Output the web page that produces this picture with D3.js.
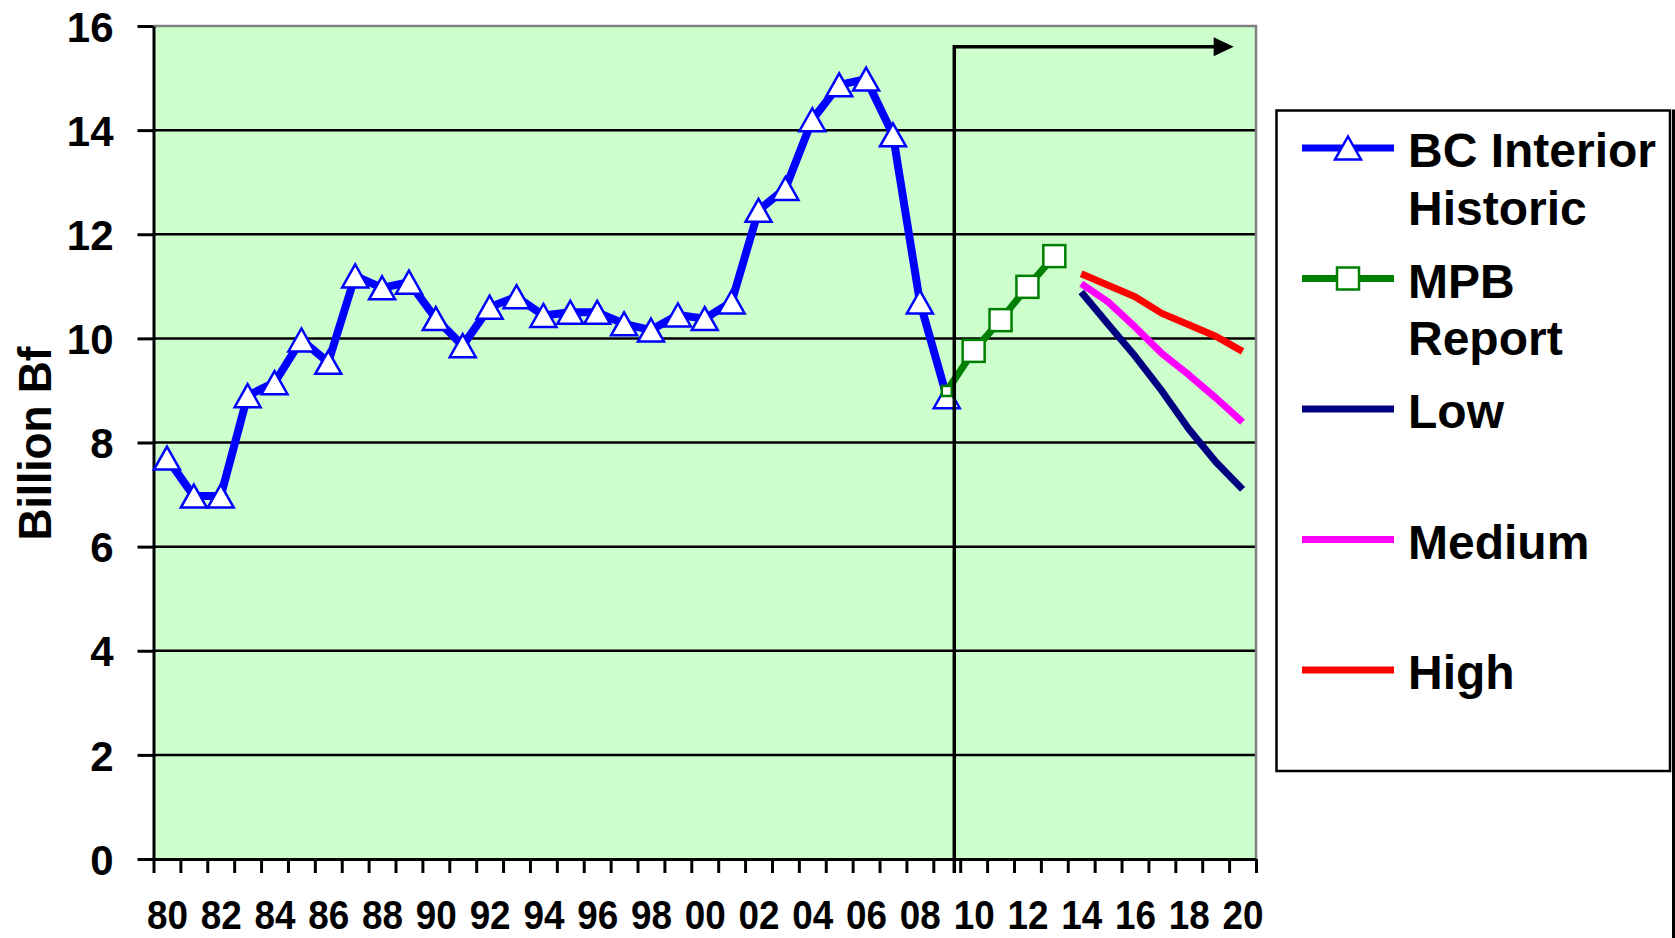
<!DOCTYPE html>
<html>
<head>
<meta charset="utf-8">
<script src="https://cdn.jsdelivr.net/npm/d3@7"></script>
<style>
  body { margin: 0; background: #ffffff; }
  svg { display: block; }
  text { font-family: "Liberation Sans", Arial, sans-serif; font-weight: bold; fill: #000; }
</style>
</head>
<body>
<svg id="chart" width="1675" height="938"></svg>
<script>
// Interior BC harvest volume, billion board feet
const historicYears = [1980, 1981, 1982, 1983, 1984, 1985, 1986, 1987, 1988, 1989,
                       1990, 1991, 1992, 1993, 1994, 1995, 1996, 1997, 1998, 1999,
                       2000, 2001, 2002, 2003, 2004, 2005, 2006, 2007, 2008, 2009];
const historicValues = [7.70, 6.97, 6.97, 8.90, 9.15, 9.97, 9.54, 11.20, 10.97, 11.08,
                        10.38, 9.86, 10.60, 10.80, 10.44, 10.50, 10.50, 10.28, 10.16, 10.45,
                        10.38, 10.70, 12.46, 12.88, 14.20, 14.87, 14.98, 13.91, 10.70, 8.88];

const mpbYears = [2009, 2010, 2011, 2012, 2013];
const mpbValues = [8.99, 9.76, 10.35, 10.99, 11.58];

const projectionYears = [2014, 2015, 2016, 2017, 2018, 2019, 2020];
const lowValues = [10.89, 10.27, 9.66, 8.99, 8.26, 7.63, 7.10];
const mediumValues = [11.05, 10.70, 10.22, 9.71, 9.30, 8.86, 8.39];
const highValues = [11.24, 11.02, 10.80, 10.48, 10.26, 10.04, 9.75];

const yTicks = [0, 2, 4, 6, 8, 10, 12, 14, 16];
const xLabelYears = [1980, 1982, 1984, 1986, 1988, 1990, 1992, 1994, 1996, 1998, 2000,
                     2002, 2004, 2006, 2008, 2010, 2012, 2014, 2016, 2018, 2020];
const xLabels = ["80", "82", "84", "86", "88", "90", "92", "94", "96", "98", "00",
                 "02", "04", "06", "08", "10", "12", "14", "16", "18", "20"];
const firstYear = 1980, lastYear = 2020;

// forecast marker: vertical rule with an arrow pointing to the projection years
const forecastFrom = 2009.28, forecastTo = 2019.67, forecastLevel = 15.6;

const legendNames = [["BC Interior", "Historic"], ["MPB", "Report"], ["Low"], ["Medium"], ["High"]];
const legendColors = ["#0000ff", "#008000", "#000080", "#ff00ff", "#ff0000"];
const legendMarkers = ["triangle", "square", null, null, null];

const svg = d3.select("#chart");
const plot = { left: 153.5, right: 1256, top: 26, bottom: 859 };

const x = d3.scaleLinear().domain([firstYear - 0.5, lastYear + 0.5]).range([plot.left, plot.right]);
const y = d3.scaleLinear().domain([0, 16]).range([plot.bottom, plot.top]);

// plot background
svg.append("rect")
  .attr("x", plot.left).attr("y", plot.top)
  .attr("width", plot.right - plot.left).attr("height", plot.bottom - plot.top)
  .attr("fill", "#ccffcc");

// horizontal gridlines
svg.append("g").selectAll("line")
  .data(yTicks.filter(v => v > 0 && v < 16))
  .join("line")
  .attr("x1", plot.left).attr("x2", plot.right)
  .attr("y1", d => y(d)).attr("y2", d => y(d))
  .attr("stroke", "#000").attr("stroke-width", 2.5);

// grey frame on top and right
svg.append("path")
  .attr("d", `M${plot.left},${y(16)}H${plot.right}V${plot.bottom}`)
  .attr("fill", "none").attr("stroke", "#808080").attr("stroke-width", 2.5);

// y axis
const yAxis = svg.append("g")
  .attr("transform", `translate(${plot.left},0)`)
  .call(d3.axisLeft(y).tickValues(yTicks).tickSize(16).tickSizeOuter(0).tickPadding(24));
yAxis.select(".domain").attr("stroke", "#000").attr("stroke-width", 3);
yAxis.selectAll(".tick line").attr("stroke", "#000").attr("stroke-width", 3);
yAxis.selectAll(".tick text")
  .attr("font-size", 42).attr("dy", "0.36em")
  .style("font-family", "'Liberation Sans', Arial, sans-serif").style("font-weight", "bold");

// x axis: ticks between categories
const boundaries = d3.range(firstYear - 0.5, lastYear + 1, 1);
const xAxis = svg.append("g")
  .attr("transform", `translate(0,${plot.bottom})`)
  .call(d3.axisBottom(x).tickValues(boundaries).tickSize(14).tickSizeOuter(0).tickFormat(""));
xAxis.select(".domain").attr("stroke", "#000").attr("stroke-width", 3);
xAxis.selectAll(".tick line").attr("stroke", "#000").attr("stroke-width", 3);

// x labels every second year
const xLabelAxis = svg.append("g")
  .attr("transform", `translate(0,${plot.bottom})`)
  .call(d3.axisBottom(x).tickValues(xLabelYears).tickSize(0).tickPadding(42)
        .tickFormat((d, i) => xLabels[i]));
xLabelAxis.select(".domain").remove();
xLabelAxis.selectAll(".tick text")
  .attr("font-size", 40).attr("y", 41.5).attr("dy", "0.72em")
  .attr("textLength", 41).attr("lengthAdjust", "spacingAndGlyphs")
  .style("font-family", "'Liberation Sans', Arial, sans-serif").style("font-weight", "bold");

// y axis title
svg.append("text")
  .attr("transform", `translate(51,${(plot.top + plot.bottom) / 2 + 1}) rotate(-90)`)
  .attr("text-anchor", "middle")
  .attr("font-size", 46)
  .attr("textLength", 194).attr("lengthAdjust", "spacingAndGlyphs")
  .text("Billion Bf");

const line = d3.line().x(d => x(d[0])).y(d => y(d[1]));
const zip = (a, b) => a.map((v, i) => [v, b[i]]);

const triangle = (w, h) => `M0,${-h / 2}L${w / 2},${h / 2}L${-w / 2},${h / 2}Z`;

// historic series
const historic = zip(historicYears, historicValues);
svg.append("path").datum(historic)
  .attr("d", line).attr("fill", "none")
  .attr("stroke", "#0000ff").attr("stroke-width", 8)
  .attr("stroke-linejoin", "round");
svg.append("g").selectAll("path")
  .data(historic).join("path")
  .attr("transform", d => `translate(${x(d[0])},${y(d[1])})`)
  .attr("d", triangle(26, 23))
  .attr("fill", "#fff").attr("stroke", "#0000ff").attr("stroke-width", 2.5);

// MPB report series
const mpb = zip(mpbYears, mpbValues);
svg.append("path").datum(mpb)
  .attr("d", line).attr("fill", "none")
  .attr("stroke", "#008000").attr("stroke-width", 7)
  .attr("stroke-linejoin", "round");
svg.append("g").selectAll("rect")
  .data(mpb).join("rect")
  .each(function (d, i) {
    const s = i === 0 ? 10 : 22;
    d3.select(this)
      .attr("x", x(d[0]) - s / 2).attr("y", y(d[1]) - s / 2)
      .attr("width", s).attr("height", s);
  })
  .attr("fill", "#fff").attr("stroke", "#008000").attr("stroke-width", 2.5);

// projection scenarios
[[lowValues, "#000080"], [mediumValues, "#ff00ff"], [highValues, "#ff0000"]].forEach(([vals, col]) => {
  svg.append("path").datum(zip(projectionYears, vals))
    .attr("d", line).attr("fill", "none")
    .attr("stroke", col).attr("stroke-width", 7)
    .attr("stroke-linejoin", "round");
});

// forecast rule and arrow
const fx = x(forecastFrom), fy = y(forecastLevel), ax = x(forecastTo);
svg.append("path")
  .attr("d", `M${fx},${plot.bottom + 14}V${fy}H${ax - 16}`)
  .attr("fill", "none").attr("stroke", "#000").attr("stroke-width", 3.5);
svg.append("path")
  .attr("d", `M${ax},${fy}L${ax - 20},${fy - 9.5}L${ax - 20},${fy + 9.5}Z`)
  .attr("fill", "#000");

// legend
const lg = { x: 1276.5, y: 110.5, w: 393.5, h: 660.5 };
svg.append("rect")
  .attr("x", lg.x).attr("y", lg.y).attr("width", lg.w).attr("height", lg.h)
  .attr("fill", "#fff").attr("stroke", "#000").attr("stroke-width", 2.5);
svg.append("rect")
  .attr("x", 1672).attr("y", lg.y - 1).attr("width", 3).attr("height", 938 - lg.y + 1)
  .attr("fill", "#000");

const sampleX1 = 1302, sampleX2 = 1394, textX = 1408;
const legendRows = svg.append("g").selectAll("g")
  .data(legendNames).join("g")
  .attr("transform", (d, i) => `translate(0,${148 + i * 130.5})`);
legendRows.append("line")
  .attr("x1", sampleX1).attr("x2", sampleX2)
  .attr("stroke", (d, i) => legendColors[i]).attr("stroke-width", 7);
legendRows.each(function (d, i) {
  const g = d3.select(this);
  const cx = (sampleX1 + sampleX2) / 2;
  if (legendMarkers[i] === "triangle") {
    g.append("path").attr("transform", `translate(${cx},0)`)
      .attr("d", triangle(26, 23))
      .attr("fill", "#fff").attr("stroke", legendColors[i]).attr("stroke-width", 2.5);
  } else if (legendMarkers[i] === "square") {
    g.append("rect").attr("x", cx - 11).attr("y", -11).attr("width", 22).attr("height", 22)
      .attr("fill", "#fff").attr("stroke", legendColors[i]).attr("stroke-width", 2.5);
  }
  g.selectAll("text").data(d).join("text")
    .attr("x", textX).attr("y", (t, j) => 19 + j * 57.6)
    .attr("font-size", 48)
    .text(t => t);
});
</script>
</body>
</html>
